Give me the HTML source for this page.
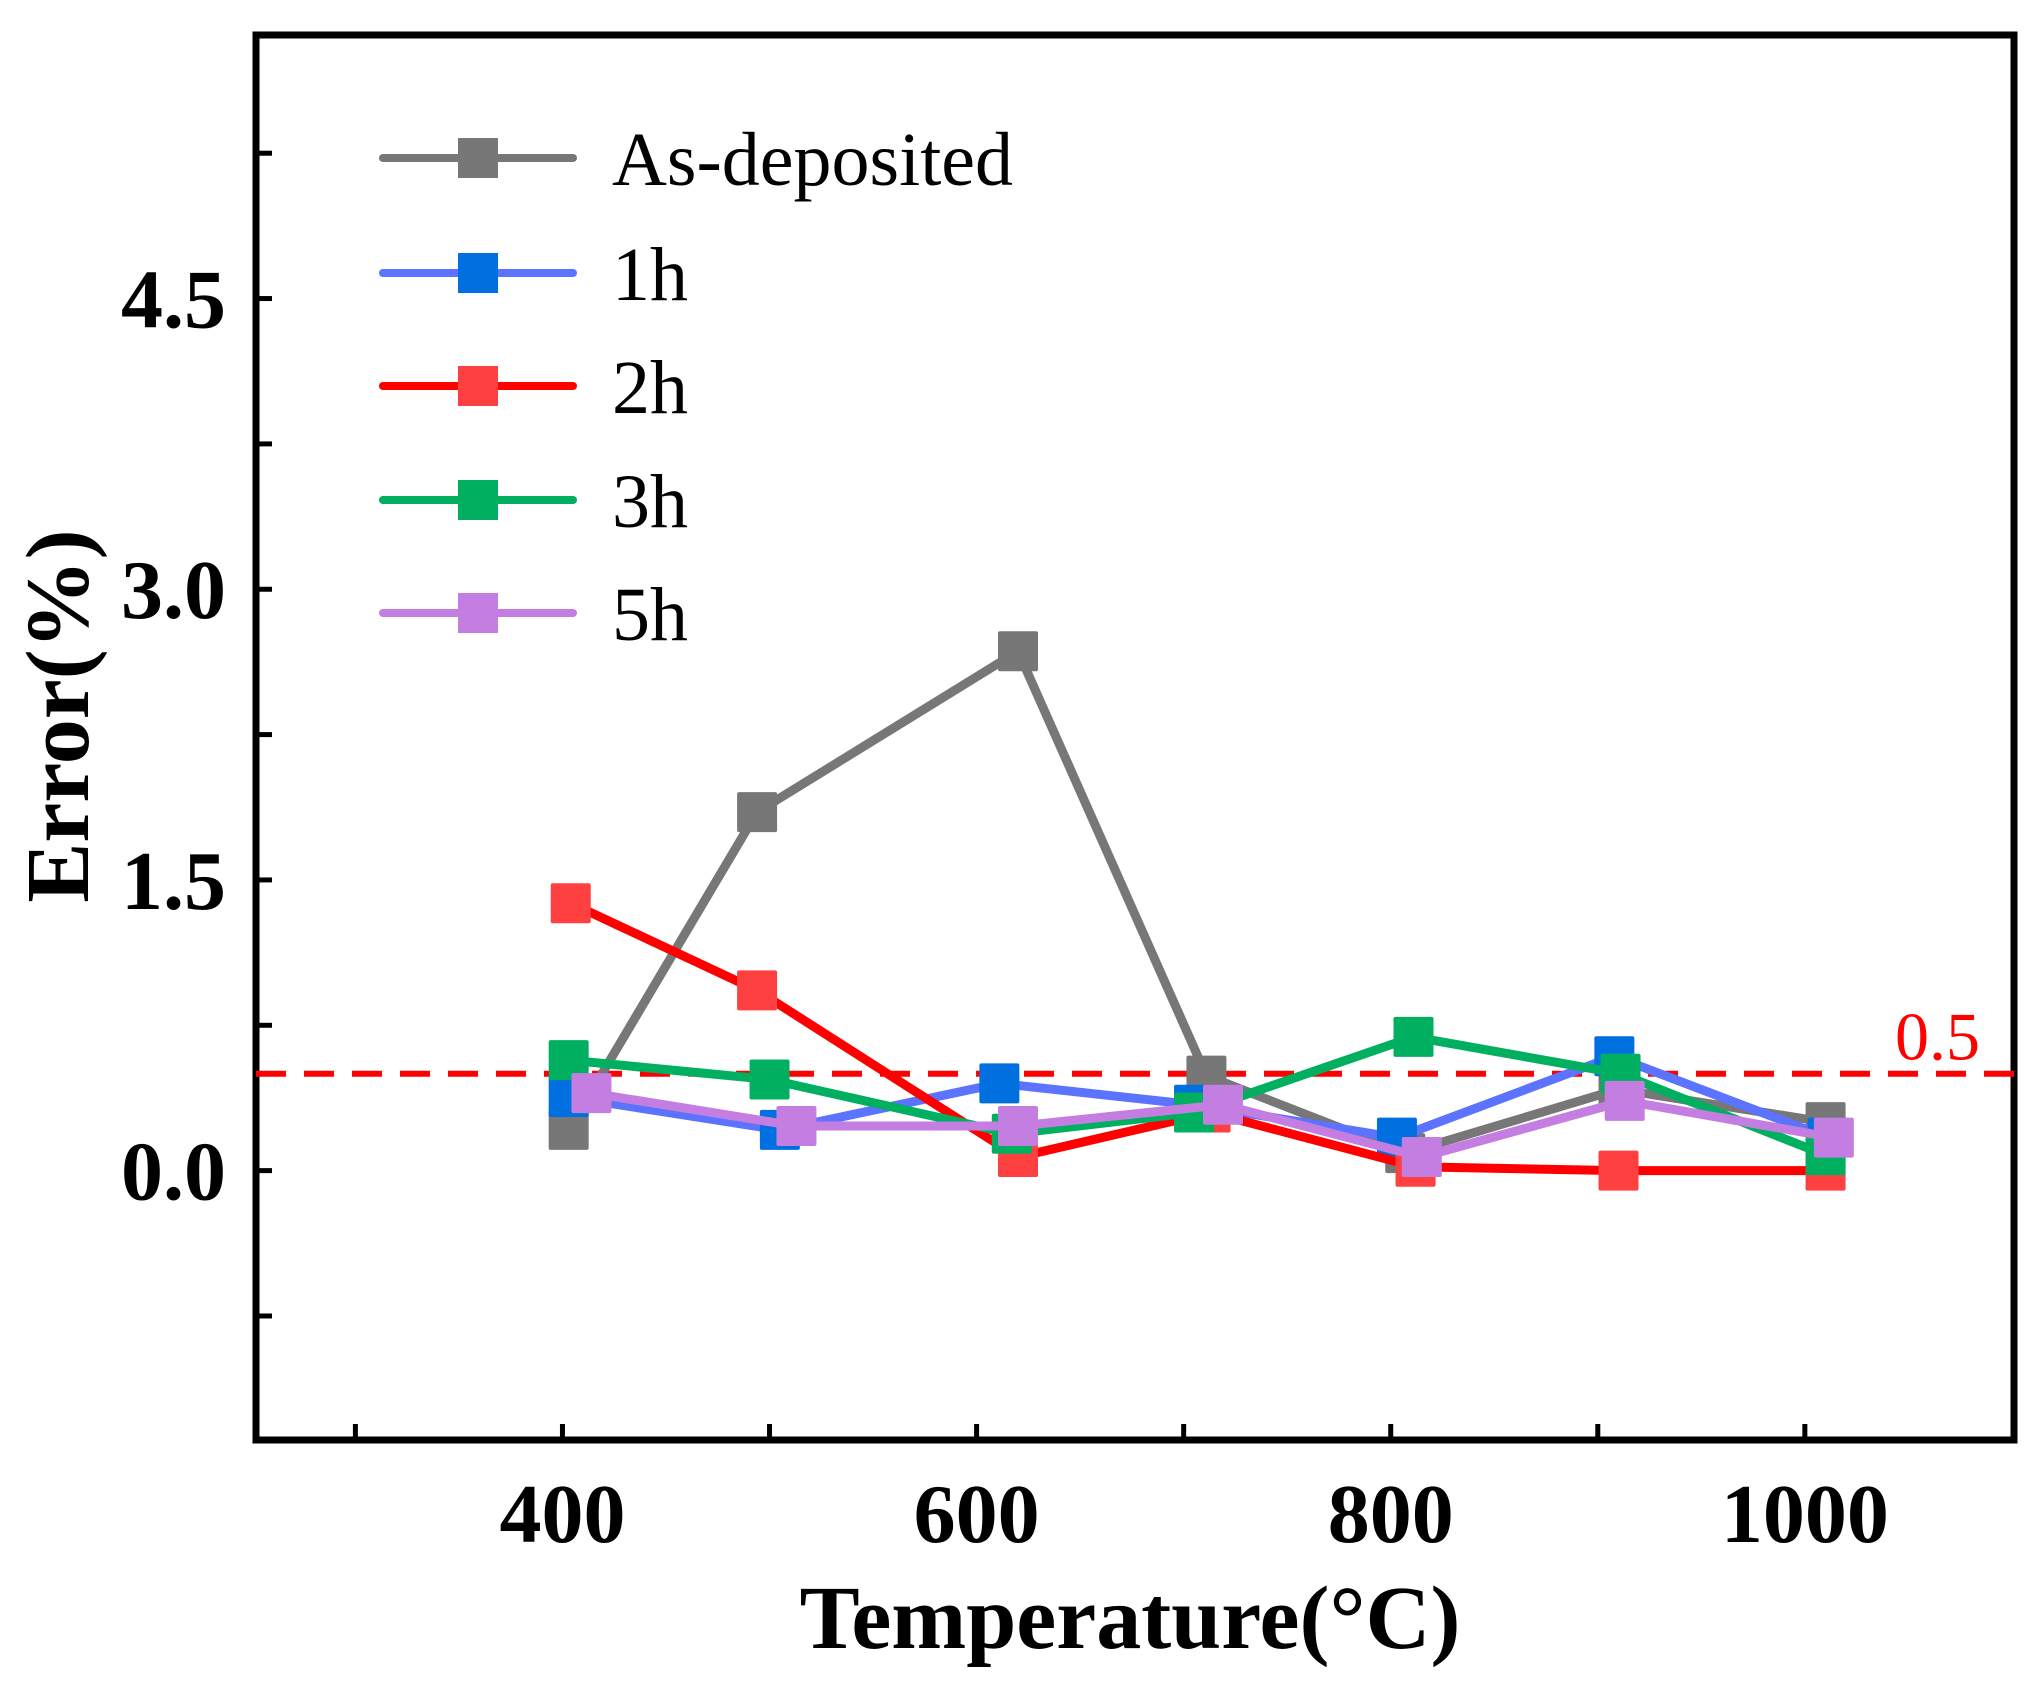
<!DOCTYPE html>
<html><head><meta charset="utf-8"><style>
html,body{margin:0;padding:0;background:#fff;}
svg{display:block;font-family:"Liberation Serif",serif;}
</style></head><body>
<svg id="chart" width="2040" height="1682" viewBox="0 0 2040 1682" xmlns="http://www.w3.org/2000/svg">
<g id="axes"></g><g id="plot"></g><g id="legend"></g>
</svg>
<script>
const temps=[[403,494,620,711,807,910,1010],[403,505,611,705,803,908,1011],[404,494,620,713,812,910,1010],[403,500,617,705,811,911,1010],[414,513,620,719,815,913,1014]];
const asDeposited=[0.21,1.85,2.68,0.49,0.09,0.42,0.25];
const h1=[0.38,0.21,0.45,0.34,0.17,0.59,0.17];
const h2=[1.38,0.93,0.07,0.30,0.02,0.0,0.0];
const h3=[0.57,0.47,0.19,0.30,0.69,0.50,0.08];
const h5=[0.40,0.23,0.23,0.34,0.07,0.36,0.17];
const seriesNames=["As-deposited","1h","2h","3h","5h"];
const xTicks=[400,600,800,1000];
const xMinor=[300,500,700,900];
const yTicks=[0,1.5,3.0,4.5];
const yTickLabels=["0.0","1.5","3.0","4.5"];
const yMinor=[-0.75,0.75,2.25,3.75,5.25];
const threshold=0.5;

const L=256,R=2014,T=35,B=1440;
const xMin=252,xMax=1101,yMin=-1.39,yMax=5.86;
const X=v=>L+(v-xMin)/(xMax-xMin)*(R-L);
const Y=v=>B-(v-yMin)/(yMax-yMin)*(B-T);
const NS="http://www.w3.org/2000/svg";
function mk(p,tag,at,txt){const e=document.createElementNS(NS,tag);for(const k in at)e.setAttribute(k,at[k]);if(txt!==undefined)e.textContent=txt;p.appendChild(e);return e;}
const axes=document.getElementById('axes'),plot=document.getElementById('plot'),leg=document.getElementById('legend');

let e=mk(plot,'line',{x1:L,x2:R,y1:Y(threshold),y2:Y(threshold),stroke:'#ff0000','stroke-width':6,'stroke-dasharray':'30 18'});


e=mk(plot,'text',{x:1980,y:Y(threshold)-14,'font-size':68,fill:'#ff0000','text-anchor':'end'},'0.5');



const data=[asDeposited,h1,h2,h3,h5];
const lineC=['#777777','#5b73ff','#ff0000','#00b060','#c47de0'];
const markC=['#777777','#0070e0','#ff4040','#00b060','#c47de0'];
data.forEach((d,i)=>{
  const g=mk(plot,'g',{});
  
  
  const pts=d.map((v,j)=>X(temps[i][j])+','+Y(v)).join(' ');
  mk(g,'polyline',{points:pts,fill:'none',stroke:lineC[i],'stroke-width':9,'stroke-linejoin':'miter'});
  d.forEach((v,j)=>{
    const r=mk(g,'rect',{x:X(temps[i][j])-20,y:Y(v)-20,width:40,height:40,fill:markC[i],rx:2});
    
    
  });
});

e=mk(axes,'rect',{x:L,y:T,width:R-L,height:B-T,fill:'none',stroke:'#000','stroke-width':7});


xTicks.concat(xMinor).forEach(v=>{mk(axes,'line',{x1:X(v),x2:X(v),y1:B,y2:B-16,stroke:'#000','stroke-width':5});});
yTicks.concat(yMinor).forEach(v=>{mk(axes,'line',{x1:L,x2:L+16,y1:Y(v),y2:Y(v),stroke:'#000','stroke-width':5});});
xTicks.forEach(v=>{
  const t=mk(axes,'text',{x:X(v),y:1542,'font-size':84,'font-weight':'bold','text-anchor':'middle'},String(v));
  
  
});
yTicks.forEach((v,i)=>{
  const t=mk(axes,'text',{x:226,y:Y(v)+29,'font-size':84,'font-weight':'bold','text-anchor':'end'},yTickLabels[i]);
  
  
});
e=mk(axes,'text',{x:1130,y:1648,'font-size':90,'font-weight':'bold','text-anchor':'middle'},'Temperature(°C)');


e=mk(axes,'text',{x:0,y:0,'font-size':90,'font-weight':'bold','text-anchor':'middle',transform:'translate(88,716) rotate(-90)'},'Error(%)');



const legY=[158,273,386,500,613];
seriesNames.forEach((n,i)=>{
  const g=mk(leg,'g',{});
  
  
  mk(g,'line',{x1:383,x2:573,y1:legY[i],y2:legY[i],stroke:lineC[i],'stroke-width':8,'stroke-linecap':'round'});
  mk(g,'rect',{x:458,y:legY[i]-20,width:40,height:40,fill:markC[i]});
  mk(g,'text',{x:612,y:legY[i]+27,'font-size':76},n);
});
</script>
</body></html>
